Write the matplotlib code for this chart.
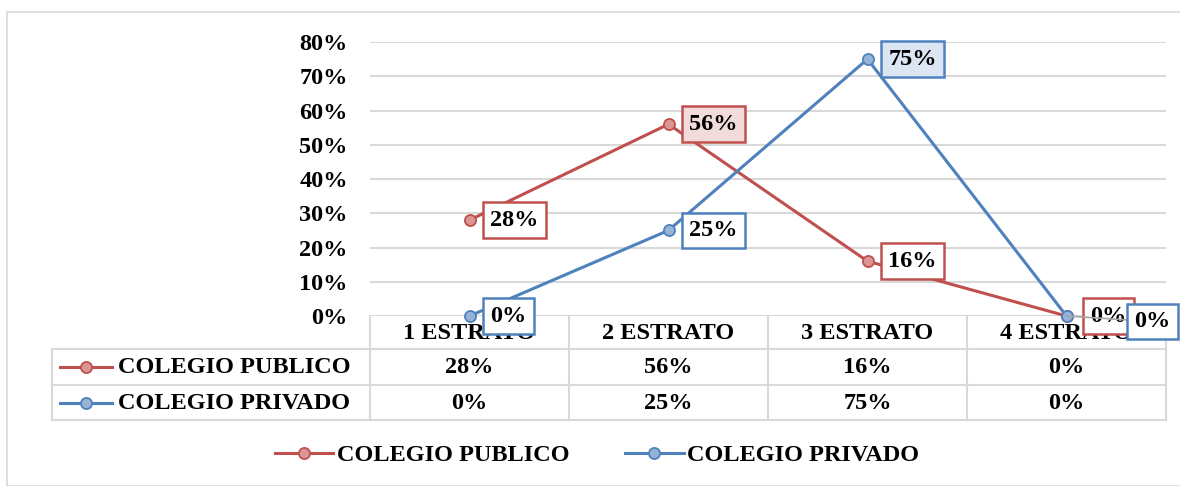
import matplotlib.pyplot as plt
from matplotlib.patches import Rectangle

categories = ['1 ESTRATO', '2 ESTRATO', '3 ESTRATO', '4 ESTRATO']
series_names = ['COLEGIO PUBLICO', 'COLEGIO PRIVADO']
publico = [0.28, 0.56, 0.16, 0.00]
privado = [0.00, 0.25, 0.75, 0.00]
yticks = [0.0, 0.1, 0.2, 0.3, 0.4, 0.5, 0.6, 0.7, 0.8]

red, red_fill, red_box = '#C0504D', '#D99694', '#F2DCDB'
blue, blue_fill, blue_box = '#4F81BD', '#95B3D7', '#DCE6F2'
grid = '#D9D9D9'

plt.rcParams['font.family'] = ['Liberation Serif', 'DejaVu Serif']
plt.rcParams['font.weight'] = 'bold'
FS = 17.5

W, H = 1180, 486
fig = plt.figure(figsize=(W / 100, H / 100), dpi=100)
# outer chart border
fig.patches.append(Rectangle((7 / W, 0), 1.2, (H - 12) / H, transform=fig.transFigure,
                             fill=False, edgecolor=grid, lw=1.2))

left, right, top, bottom = 370, 1166, 42, 316
ax = fig.add_axes([left / W, 1 - bottom / H, (right - left) / W, (bottom - top) / H])
ax.set_xlim(-0.5, len(categories) - 0.5)
ax.set_ylim(0, 0.8)
ax.set_yticks(yticks)
ax.set_yticklabels([f'{int(round(v * 100))}%' for v in yticks], fontsize=FS, fontweight='bold')
ax.set_xticks([])
ax.tick_params(axis='y', length=0, pad=16)
for s in ax.spines.values():
    s.set_visible(False)
ax.grid(axis='y', color=grid, lw=1.5)
ax.set_axisbelow(True)

x = list(range(len(categories)))
ax.plot(x, publico, color=red, lw=2.2, marker='o', ms=8, mfc=red_fill, mec=red, mew=1.3,
        label=series_names[0], zorder=3, clip_on=False)
ax.plot(x, privado, color=blue, lw=2.2, marker='o', ms=8, mfc=blue_fill, mec=blue, mew=1.3,
        label=series_names[1], zorder=3, clip_on=False)

# data labels (manual offsets as in the source chart)
pub_off = [(15, 0), (15, 0), (15, 0), (17, 0)]
pub_fill = ['white', red_box, 'white', 'white']
priv_off = [(15, 0), (15, 0), (15, 0), (49, -4)]
priv_fill = ['white', 'white', blue_box, 'white']
for vals, offs, fills, col in [(publico, pub_off, pub_fill, red), (privado, priv_off, priv_fill, blue)]:
    for i, v in enumerate(vals):
        kw = {}
        if col == blue and i == 3:
            kw['arrowprops'] = dict(arrowstyle='-', color='#A6A6A6', lw=1.2, shrinkA=0, shrinkB=0)
        ax.annotate(f'{int(round(v * 100))}%', (i, v), xytext=offs[i], textcoords='offset points',
                    ha='left', va='center', fontsize=FS, fontweight='bold', zorder=6,
                    annotation_clip=False,
                    bbox=dict(boxstyle='square,pad=0.3', fc=fills[i], ec=col, lw=1.8), **kw)

# data table under the axis
tr = ax.get_xaxis_transform()
unit = (right - left) / len(categories)
def px_x(p):
    return -0.5 + (p - left) / unit
def px_y(p):
    return -(p - bottom) / (bottom - top)

rows = [316, 349, 385, 420]
tl = px_x(52)
for r in rows[1:]:
    ax.plot([tl, len(categories) - 0.5], [px_y(r)] * 2, transform=tr, color=grid, lw=1.5, clip_on=False)
ax.plot([tl, tl], [px_y(349), px_y(420)], transform=tr, color=grid, lw=1.5, clip_on=False)
for i in range(len(categories) + 1):
    xv = i - 0.5
    ax.plot([xv, xv], [px_y(316), px_y(420)], transform=tr, color=grid, lw=1.5, clip_on=False)

for i, c in enumerate(categories):
    ax.text(i, px_y(333), c, transform=tr, ha='center', va='center', fontsize=FS, fontweight='bold')
    ax.text(i, px_y(367), f'{int(round(publico[i] * 100))}%', transform=tr, ha='center',
            va='center', fontsize=FS, fontweight='bold')
    ax.text(i, px_y(403), f'{int(round(privado[i] * 100))}%', transform=tr, ha='center',
            va='center', fontsize=FS, fontweight='bold')

for name, yc, col, fill in [(series_names[0], 367, red, red_fill), (series_names[1], 403, blue, blue_fill)]:
    ax.plot([px_x(60), px_x(112)], [px_y(yc)] * 2, transform=tr, color=col, lw=2.2, clip_on=False)
    ax.plot([px_x(86)], [px_y(yc)], transform=tr, marker='o', ms=8, mfc=fill, mec=col, mew=1.3,
            clip_on=False)
    ax.text(px_x(118), px_y(yc), name, transform=tr, ha='left', va='center', fontsize=FS,
            fontweight='bold')

fig.legend(loc='center', bbox_to_anchor=(597 / W, 1 - 455 / H), ncol=2, frameon=False,
           prop={'size': FS, 'weight': 'bold'}, handlelength=2.4, handletextpad=0.15,
           columnspacing=2.3)

fig.savefig('out.png', dpi=100)
